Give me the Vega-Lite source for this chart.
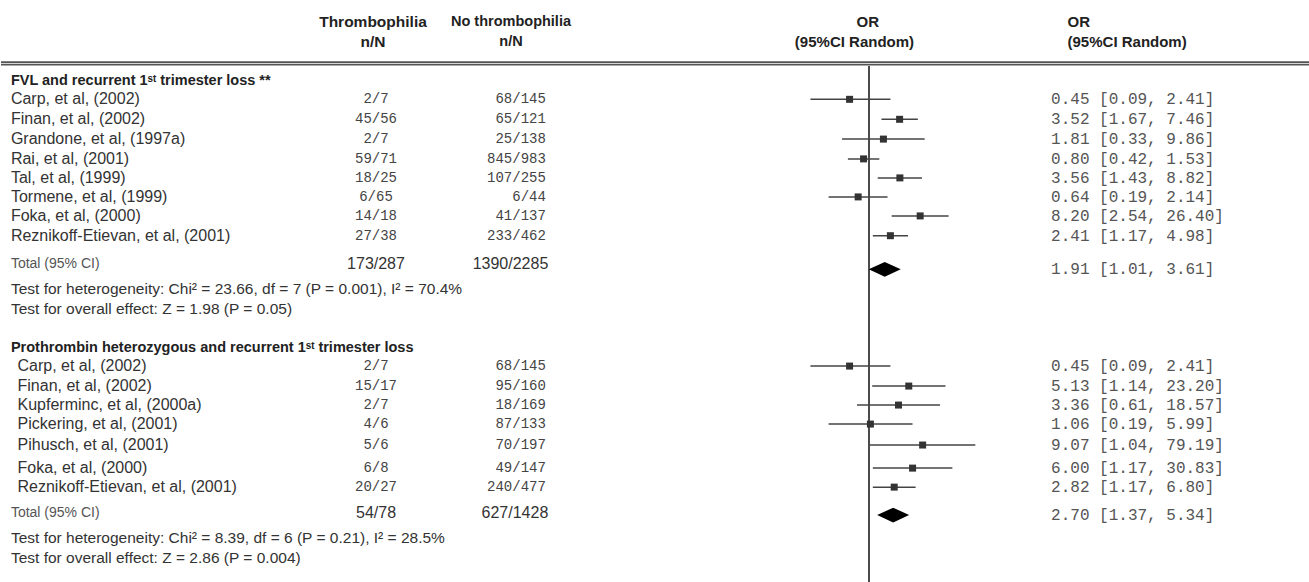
{
  "$schema": "https://vega.github.io/schema/vega-lite/v6.json",
  "background": "white",
  "padding": 0,
  "autosize": {"type": "pad"},
  "bounds": "flush",
  "spacing": 0,
  "config": {"view": {"stroke": null}, "text": {"font": "Liberation Sans", "baseline": "middle"}},
  "datasets": {
    "studies": [
      {"g": 1, "study": "Carp, et al, (2002)", "t": "2/7", "nt": "68/145", "or": 0.45, "lo": 0.09, "hi": 2.41, "ci": "0.45 [0.09, 2.41]", "r": 5.12},
      {"g": 1, "study": "Finan, et al, (2002)", "t": "45/56", "nt": "65/121", "or": 3.52, "lo": 1.67, "hi": 7.46, "ci": "3.52 [1.67, 7.46]", "r": 6.15},
      {"g": 1, "study": "Grandone, et al, (1997a)", "t": "2/7", "nt": "25/138", "or": 1.81, "lo": 0.33, "hi": 9.86, "ci": "1.81 [0.33, 9.86]", "r": 7.17},
      {"g": 1, "study": "Rai, et al, (2001)", "t": "59/71", "nt": "845/983", "or": 0.80, "lo": 0.42, "hi": 1.53, "ci": "0.80 [0.42, 1.53]", "r": 8.19},
      {"g": 1, "study": "Tal, et al, (1999)", "t": "18/25", "nt": "107/255", "or": 3.56, "lo": 1.43, "hi": 8.82, "ci": "3.56 [1.43, 8.82]", "r": 9.17},
      {"g": 1, "study": "Tormene, et al, (1999)", "t": "6/65", "nt": "6/44", "or": 0.64, "lo": 0.19, "hi": 2.14, "ci": "0.64 [0.19, 2.14]", "r": 10.15},
      {"g": 1, "study": "Foka, et al, (2000)", "t": "14/18", "nt": "41/137", "or": 8.20, "lo": 2.54, "hi": 26.40, "ci": "8.20 [2.54, 26.40]", "r": 11.13},
      {"g": 1, "study": "Reznikoff-Etievan, et al, (2001)", "t": "27/38", "nt": "233/462", "or": 2.41, "lo": 1.17, "hi": 4.98, "ci": "2.41 [1.17, 4.98]", "r": 12.15},
      {"g": 2, "study": "Carp, et al, (2002)", "t": "2/7", "nt": "68/145", "or": 0.45, "lo": 0.09, "hi": 2.41, "ci": "0.45 [0.09, 2.41]", "r": 18.87},
      {"g": 2, "study": "Finan, et al, (2002)", "t": "15/17", "nt": "95/160", "or": 5.13, "lo": 1.14, "hi": 23.20, "ci": "5.13 [1.14, 23.20]", "r": 19.9},
      {"g": 2, "study": "Kupferminc, et al, (2000a)", "t": "2/7", "nt": "18/169", "or": 3.36, "lo": 0.61, "hi": 18.57, "ci": "3.36 [0.61, 18.57]", "r": 20.88},
      {"g": 2, "study": "Pickering, et al, (2001)", "t": "4/6", "nt": "87/133", "or": 1.06, "lo": 0.19, "hi": 5.99, "ci": "1.06 [0.19, 5.99]", "r": 21.86},
      {"g": 2, "study": "Pihusch, et al, (2001)", "t": "5/6", "nt": "70/197", "or": 9.07, "lo": 1.04, "hi": 79.19, "ci": "9.07 [1.04, 79.19]", "r": 22.94},
      {"g": 2, "study": "Foka, et al, (2000)", "t": "6/8", "nt": "49/147", "or": 6.00, "lo": 1.17, "hi": 30.83, "ci": "6.00 [1.17, 30.83]", "r": 24.13},
      {"g": 2, "study": "Reznikoff-Etievan, et al, (2001)", "t": "20/27", "nt": "240/477", "or": 2.82, "lo": 1.17, "hi": 6.80, "ci": "2.82 [1.17, 6.80]", "r": 25.11}
    ],
    "totals": [
      {"g": 1, "label": "Total (95% CI)", "t": "173/287", "nt": "1390/2285", "or": 1.91, "lo": 1.01, "hi": 3.61, "ci": "1.91 [1.01, 3.61]", "r": 13.6, "rd": 13.88},
      {"g": 2, "label": "Total (95% CI)", "t": "54/78", "nt": "627/1428", "or": 2.70, "lo": 1.37, "hi": 5.34, "ci": "2.70 [1.37, 5.34]", "r": 26.42, "rd": 26.55}
    ],
    "notes": [
      {"text": "Test for heterogeneity: Chi² = 23.66, df = 7 (P = 0.001), I² = 70.4%", "r": 14.9},
      {"text": "Test for overall effect: Z = 1.98 (P = 0.05)", "r": 15.93},
      {"text": "Test for heterogeneity: Chi² = 8.39, df = 6 (P = 0.21), I² = 28.5%", "r": 27.74},
      {"text": "Test for overall effect: Z = 2.86 (P = 0.004)", "r": 28.77}
    ],
    "sections": [
      {"text": "FVL and recurrent 1ˢᵗ trimester loss  **", "r": 4.2},
      {"text": "Prothrombin heterozygous and recurrent 1ˢᵗ trimester loss", "r": 17.94}
    ],
    "hrules": [{"r": 3.2, "k": "a"}, {"r": 3.33, "k": "b"}],
    "headers": [
      {"col": "thr", "text": "Thrombophilia", "r": 1.13},
      {"col": "thr", "text": "n/N", "r": 2.16},
      {"col": "nothr", "text": "No thrombophilia", "r": 1.13},
      {"col": "nothr", "text": "n/N", "r": 2.16},
      {"col": "or1", "text": "OR", "r": 1.13},
      {"col": "or1b", "text": "(95%CI Random)", "r": 2.16},
      {"col": "or2", "text": "OR", "r": 1.13},
      {"col": "or2", "text": "(95%CI Random)", "r": 2.16}
    ],
    "vline": [{"or": 1, "top": 3.4, "bottom": 30}]
  },
  "hconcat": [
    {
      "width": 300, "height": 582,
      "layer": [
        {"data": {"name": "hrules"}, "mark": {"type": "rule", "color": "#555", "strokeWidth": 1.6},
         "encoding": {"y": {"field": "r", "type": "quantitative", "scale": {"domain": [0, 30], "reverse": true}, "axis": null}}},
        {"data": {"name": "sections"}, "mark": {"type": "text", "align": "left", "fontWeight": "bold", "fontSize": 14.5, "color": "#222"},
         "encoding": {"x": {"datum": 0.033, "type": "quantitative", "scale": {"domain": [0, 1]}, "axis": null},
                      "y": {"field": "r", "type": "quantitative"}, "text": {"field": "text"}}},
        {"data": {"name": "studies"}, "transform": [{"filter": "datum.g == 1"}], "mark": {"type": "text", "align": "left", "fontSize": 16, "color": "#333"},
         "encoding": {"x": {"datum": 0.033, "type": "quantitative"}, "y": {"field": "r", "type": "quantitative"}, "text": {"field": "study"}}},
        {"data": {"name": "studies"}, "transform": [{"filter": "datum.g == 2"}], "mark": {"type": "text", "align": "left", "fontSize": 16, "color": "#333"},
         "encoding": {"x": {"datum": 0.055, "type": "quantitative"}, "y": {"field": "r", "type": "quantitative"}, "text": {"field": "study"}}},
        {"data": {"name": "totals"}, "mark": {"type": "text", "align": "left", "fontSize": 14, "color": "#555"},
         "encoding": {"x": {"datum": 0.033, "type": "quantitative"}, "y": {"field": "r", "type": "quantitative"}, "text": {"field": "label"}}},
        {"data": {"name": "notes"}, "mark": {"type": "text", "align": "left", "fontSize": 15.5, "color": "#333"},
         "encoding": {"x": {"datum": 0.033, "type": "quantitative"}, "y": {"field": "r", "type": "quantitative"}, "text": {"field": "text"}}}
      ]
    },
    {
      "width": 150, "height": 582,
      "layer": [
        {"data": {"name": "hrules"}, "mark": {"type": "rule", "color": "#555", "strokeWidth": 1.6},
         "encoding": {"y": {"field": "r", "type": "quantitative", "scale": {"domain": [0, 30], "reverse": true}, "axis": null}}},
        {"data": {"name": "headers"}, "transform": [{"filter": "datum.col == 'thr'"}], "mark": {"type": "text", "align": "center", "fontWeight": "bold", "fontSize": 15.5, "color": "#222"},
         "encoding": {"x": {"datum": 0.48, "type": "quantitative", "scale": {"domain": [0, 1]}, "axis": null},
                      "y": {"field": "r", "type": "quantitative"}, "text": {"field": "text"}}},
        {"data": {"name": "studies"}, "mark": {"type": "text", "align": "center", "font": "Liberation Mono", "fontSize": 14, "color": "#444"},
         "encoding": {"x": {"datum": 0.5, "type": "quantitative"}, "y": {"field": "r", "type": "quantitative"}, "text": {"field": "t"}}},
        {"data": {"name": "totals"}, "mark": {"type": "text", "align": "center", "fontSize": 16, "color": "#333"},
         "encoding": {"x": {"datum": 0.5, "type": "quantitative"}, "y": {"field": "r", "type": "quantitative"}, "text": {"field": "t"}}}
      ]
    },
    {
      "width": 306, "height": 582,
      "layer": [
        {"data": {"name": "hrules"}, "mark": {"type": "rule", "color": "#555", "strokeWidth": 1.6},
         "encoding": {"y": {"field": "r", "type": "quantitative", "scale": {"domain": [0, 30], "reverse": true}, "axis": null}}},
        {"data": {"name": "headers"}, "transform": [{"filter": "datum.col == 'nothr'"}], "mark": {"type": "text", "align": "center", "fontWeight": "bold", "fontSize": 14.5, "color": "#222"},
         "encoding": {"x": {"datum": 0.196, "type": "quantitative", "scale": {"domain": [0, 1]}, "axis": null},
                      "y": {"field": "r", "type": "quantitative"}, "text": {"field": "text"}}},
        {"data": {"name": "studies"}, "mark": {"type": "text", "align": "right", "font": "Liberation Mono", "fontSize": 14, "color": "#444"},
         "encoding": {"x": {"datum": 0.31, "type": "quantitative"}, "y": {"field": "r", "type": "quantitative"}, "text": {"field": "nt"}}},
        {"data": {"name": "totals"}, "mark": {"type": "text", "align": "right", "fontSize": 16, "color": "#333"},
         "encoding": {"x": {"datum": 0.318, "type": "quantitative"}, "y": {"field": "r", "type": "quantitative"}, "text": {"field": "nt"}}}
      ]
    },
    {
      "width": 224, "height": 582,
      "layer": [
        {"data": {"name": "hrules"}, "mark": {"type": "rule", "color": "#555", "strokeWidth": 1.6},
         "encoding": {"y": {"field": "r", "type": "quantitative", "scale": {"domain": [0, 30], "reverse": true}, "axis": null}}},
        {"data": {"name": "headers"}, "transform": [{"filter": "datum.col == 'or1'"}], "mark": {"type": "text", "align": "center", "fontWeight": "bold", "fontSize": 15, "color": "#222"},
         "encoding": {"x": {"datum": 0.95, "type": "quantitative", "scale": {"type": "log", "domain": [0.01, 100]}, "axis": null},
                      "y": {"field": "r", "type": "quantitative"}, "text": {"field": "text"}}},
        {"data": {"name": "headers"}, "transform": [{"filter": "datum.col == 'or1b'"}], "mark": {"type": "text", "align": "center", "fontWeight": "bold", "fontSize": 15, "color": "#222"},
         "encoding": {"x": {"datum": 0.55, "type": "quantitative"}, "y": {"field": "r", "type": "quantitative"}, "text": {"field": "text"}}},
        {"data": {"name": "vline"}, "mark": {"type": "rule", "color": "#111", "strokeWidth": 1.5},
         "encoding": {"x": {"field": "or", "type": "quantitative"}, "y": {"field": "top", "type": "quantitative"}, "y2": {"field": "bottom"}}},
        {"data": {"name": "studies"}, "mark": {"type": "rule", "color": "#444", "strokeWidth": 1.5},
         "encoding": {"x": {"field": "lo", "type": "quantitative"}, "x2": {"field": "hi"}, "y": {"field": "r", "type": "quantitative"}}},
        {"data": {"name": "studies"}, "mark": {"type": "point", "shape": "square", "filled": true, "size": 49, "color": "#333", "opacity": 1},
         "encoding": {"x": {"field": "or", "type": "quantitative"}, "y": {"field": "r", "type": "quantitative"}}},
        {"data": {"name": "totals"}, "mark": {"type": "point", "shape": "M-1,0L0,-0.46L1,0L0,0.46Z", "filled": true, "size": 1024, "color": "#000", "opacity": 1},
         "encoding": {"x": {"field": "or", "type": "quantitative"}, "y": {"field": "rd", "type": "quantitative"}}}
      ]
    },
    {
      "width": 329, "height": 582,
      "layer": [
        {"data": {"name": "hrules"}, "mark": {"type": "rule", "color": "#555", "strokeWidth": 1.6},
         "encoding": {"y": {"field": "r", "type": "quantitative", "scale": {"domain": [0, 30], "reverse": true}, "axis": null}}},
        {"data": {"name": "headers"}, "transform": [{"filter": "datum.col == 'or2'"}], "mark": {"type": "text", "align": "left", "fontWeight": "bold", "fontSize": 15, "color": "#222"},
         "encoding": {"x": {"datum": 0.263, "type": "quantitative", "scale": {"domain": [0, 1]}, "axis": null},
                      "y": {"field": "r", "type": "quantitative"}, "text": {"field": "text"}}},
        {"data": {"name": "studies"}, "mark": {"type": "text", "align": "left", "font": "Liberation Mono", "fontSize": 16, "color": "#555"},
         "encoding": {"x": {"datum": 0.213, "type": "quantitative"}, "y": {"field": "r", "type": "quantitative"}, "text": {"field": "ci"}}},
        {"data": {"name": "totals"}, "mark": {"type": "text", "align": "left", "font": "Liberation Mono", "fontSize": 16, "color": "#555"},
         "encoding": {"x": {"datum": 0.213, "type": "quantitative"}, "y": {"field": "rd", "type": "quantitative"}, "text": {"field": "ci"}}}
      ]
    }
  ]
}
